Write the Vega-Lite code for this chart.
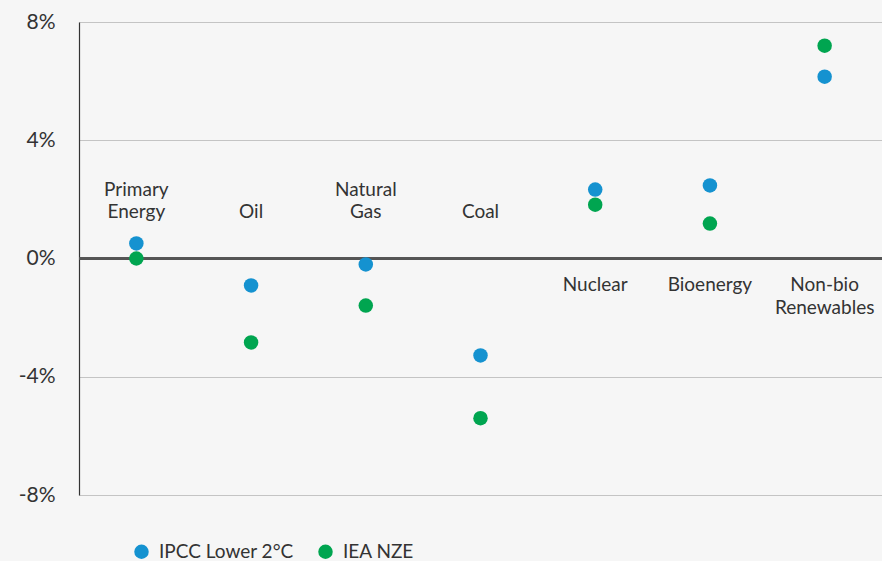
{
  "$schema": "https://vega.github.io/schema/vega-lite/v6.json",
  "width": 803,
  "height": 473,
  "autosize": {"type": "none"},
  "padding": {"left": 79, "top": 22, "right": 0, "bottom": 66},
  "background": "#f6f6f6",
  "config": {
    "view": {"stroke": null},
    "font": "Lato",
    "text": {"font": "Lato"}
  },
  "datasets": {
    "points": [
      {"category": "Primary Energy", "series": "IPCC Lower 2°C", "value": 0.51},
      {"category": "Primary Energy", "series": "IEA NZE", "value": 0.0},
      {"category": "Oil", "series": "IPCC Lower 2°C", "value": -0.91},
      {"category": "Oil", "series": "IEA NZE", "value": -2.84},
      {"category": "Natural Gas", "series": "IPCC Lower 2°C", "value": -0.2},
      {"category": "Natural Gas", "series": "IEA NZE", "value": -1.59},
      {"category": "Coal", "series": "IPCC Lower 2°C", "value": -3.28},
      {"category": "Coal", "series": "IEA NZE", "value": -5.4},
      {"category": "Nuclear", "series": "IPCC Lower 2°C", "value": 2.33},
      {"category": "Nuclear", "series": "IEA NZE", "value": 1.82},
      {"category": "Bioenergy", "series": "IPCC Lower 2°C", "value": 2.47},
      {"category": "Bioenergy", "series": "IEA NZE", "value": 1.18},
      {"category": "Non-bio Renewables", "series": "IPCC Lower 2°C", "value": 6.15},
      {"category": "Non-bio Renewables", "series": "IEA NZE", "value": 7.2}
    ],
    "labels": [
      {"category": "Primary Energy", "text": "Primary", "row": "a1"},
      {"category": "Primary Energy", "text": "Energy", "row": "a2"},
      {"category": "Oil", "text": "Oil", "row": "a2"},
      {"category": "Natural Gas", "text": "Natural", "row": "a1"},
      {"category": "Natural Gas", "text": "Gas", "row": "a2"},
      {"category": "Coal", "text": "Coal", "row": "a2"},
      {"category": "Nuclear", "text": "Nuclear", "row": "b1"},
      {"category": "Bioenergy", "text": "Bioenergy", "row": "b1"},
      {"category": "Non-bio Renewables", "text": "Non-bio", "row": "b1"},
      {"category": "Non-bio Renewables", "text": "Renewables", "row": "b2"}
    ]
  },
  "layer": [
    {
      "data": {"name": "points"},
      "mark": {"type": "rule", "color": "#555555", "strokeWidth": 1.5},
      "encoding": {"y": {"datum": 0, "type": "quantitative"}}
    },
    {
      "data": {"name": "points"},
      "mark": {"type": "circle", "size": 210, "opacity": 1},
      "encoding": {
        "x": {
          "field": "category",
          "type": "nominal",
          "sort": ["Primary Energy", "Oil", "Natural Gas", "Coal", "Nuclear", "Bioenergy", "Non-bio Renewables"],
          "scale": {"paddingInner": 0, "paddingOuter": 0},
          "axis": null
        },
        "y": {
          "field": "value",
          "type": "quantitative",
          "scale": {"domain": [-8, 8], "nice": false, "zero": false},
          "axis": {
            "values": [-8, -4, 0, 4, 8],
            "labelExpr": "datum.value + '%'",
            "title": null,
            "ticks": false,
            "grid": true,
            "labelPadding": 24,
            "labelFontSize": 21,
            "labelColor": "#333333",
            "labelFont": "Lato",
            "domainColor": "#333333",
            "domainWidth": 1.2,
            "gridColor": "#c4c4c4",
            "gridWidth": 1.2,
            "zindex": 0
          }
        },
        "color": {
          "field": "series",
          "type": "nominal",
          "scale": {"domain": ["IPCC Lower 2°C", "IEA NZE"], "range": ["#1592d0", "#00a550"]},
          "legend": {
            "title": null,
            "orient": "none",
            "direction": "horizontal",
            "legendX": 53,
            "legendY": 520,
            "symbolType": "circle",
            "symbolSize": 210,
            "symbolOpacity": 1,
            "labelFontSize": 19,
            "labelColor": "#333333",
            "labelFont": "Lato",
            "labelOffset": 8,
            "columnPadding": 22
          }
        }
      }
    },
    {
      "data": {"name": "labels"},
      "transform": [{"filter": "datum.row === 'a1'"}],
      "mark": {"type": "text", "fontSize": 19, "color": "#333333", "baseline": "middle"},
      "encoding": {
        "x": {"field": "category", "type": "nominal", "sort": ["Primary Energy", "Oil", "Natural Gas", "Coal", "Nuclear", "Bioenergy", "Non-bio Renewables"]},
        "y": {"datum": 2.33, "type": "quantitative"},
        "text": {"field": "text"}
      }
    },
    {
      "data": {"name": "labels"},
      "transform": [{"filter": "datum.row === 'a2'"}],
      "mark": {"type": "text", "fontSize": 19, "color": "#333333", "baseline": "middle"},
      "encoding": {
        "x": {"field": "category", "type": "nominal", "sort": ["Primary Energy", "Oil", "Natural Gas", "Coal", "Nuclear", "Bioenergy", "Non-bio Renewables"]},
        "y": {"datum": 1.56, "type": "quantitative"},
        "text": {"field": "text"}
      }
    },
    {
      "data": {"name": "labels"},
      "transform": [{"filter": "datum.row === 'b1'"}],
      "mark": {"type": "text", "fontSize": 19, "color": "#333333", "baseline": "middle"},
      "encoding": {
        "x": {"field": "category", "type": "nominal", "sort": ["Primary Energy", "Oil", "Natural Gas", "Coal", "Nuclear", "Bioenergy", "Non-bio Renewables"]},
        "y": {"datum": -0.91, "type": "quantitative"},
        "text": {"field": "text"}
      }
    },
    {
      "data": {"name": "labels"},
      "transform": [{"filter": "datum.row === 'b2'"}],
      "mark": {"type": "text", "fontSize": 19, "color": "#333333", "baseline": "middle"},
      "encoding": {
        "x": {"field": "category", "type": "nominal", "sort": ["Primary Energy", "Oil", "Natural Gas", "Coal", "Nuclear", "Bioenergy", "Non-bio Renewables"]},
        "y": {"datum": -1.69, "type": "quantitative"},
        "text": {"field": "text"}
      }
    }
  ]
}
